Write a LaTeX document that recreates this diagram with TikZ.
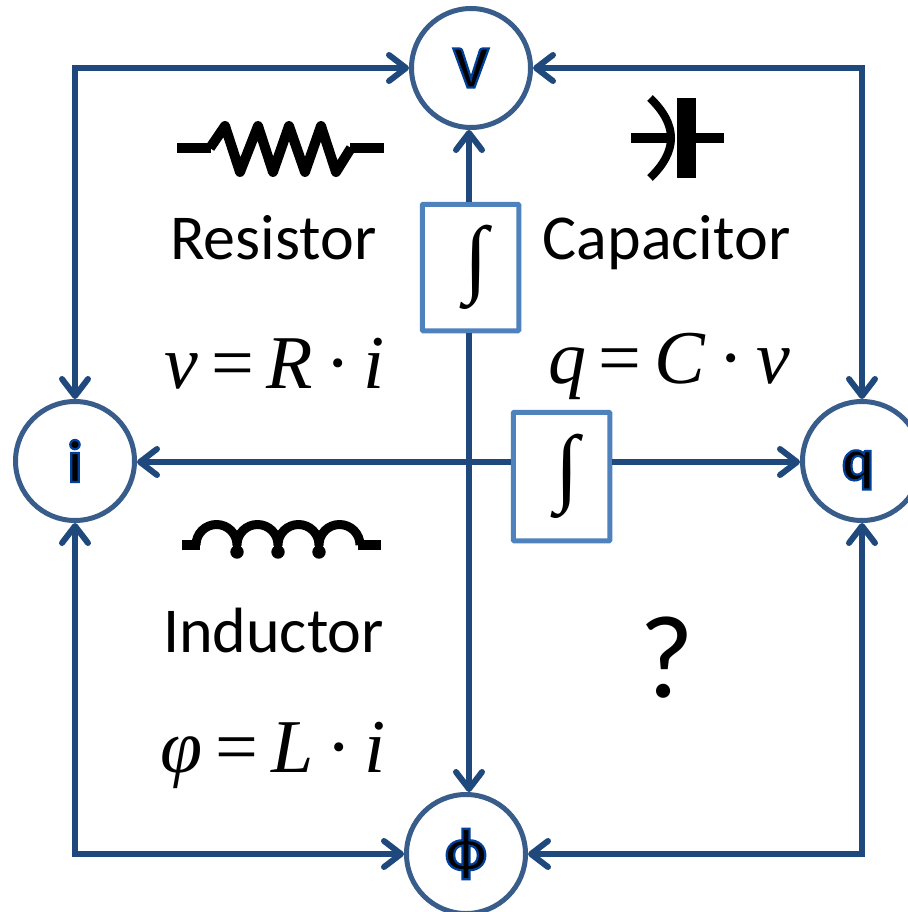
\documentclass[tikz,border=0pt]{standalone}
\usepackage{fontspec}
\setmainfont{Carlito}
\newfontfamily\mathf{Liberation Serif}
\usetikzlibrary{arrows.meta}
\definecolor{conn}{HTML}{1F497D}
\definecolor{ring}{HTML}{385D8A}
\definecolor{boxc}{HTML}{4F81BD}
\newcommand{\outl}[1]{\special{pdf:code q 0.0 0.25 0.6 RG 2.2 w 2 Tr}#1\special{pdf:code 0 Tr Q}}
\newcommand{\integralsign}{\hspace*{11pt}{\fontsize{86}{86}\selectfont\mathf ∫}}
\tikzset{
  x=1pt,y=-1pt,
  qty/.style={circle,draw=ring,line width=5pt,fill=white,minimum size=119pt,inner sep=0pt,font=\fontsize{60}{60}\selectfont\bfseries},
  integ/.style={rectangle,draw=boxc,line width=5pt,fill=white,inner sep=0pt,rounded corners=0.8pt},
  wire/.style={draw=conn,line width=6pt},
  tip/.style={wire,-{Straight Barb[length=17pt,width=26pt,round,line width=6pt]}},
  tips/.style={wire,{Straight Barb[length=17pt,width=26pt,round,line width=6pt]}-{Straight Barb[length=17pt,width=26pt,round,line width=6pt]}},
  sym/.style={draw=black,line width=9pt,line join=round},
  caption/.style={anchor=base,font=\fontsize{64}{64}\selectfont,inner sep=0pt},
  eqn/.style={anchor=base,font=\fontsize{76}{76}\selectfont\mathf,inner sep=0pt},
}
\begin{document}
\begin{tikzpicture}
\useasboundingbox (0,0) rectangle (907,912);
% resistor
\draw[sym,line width=10pt] (210,148) -- (225,126) -- (240,172) -- (258,126) -- (273,172) -- (289,126) -- (305,172) -- (321,126) -- (336,172) -- (351,148);
\draw[sym,line width=10pt] (177,148) -- (211,148) (350,148) -- (384,148);
% capacitor
\fill (677,98) rectangle (696,178);
\draw[sym,line width=10pt] (631,138) -- (670,138) (690,138) -- (724,138);
\draw[sym,line width=8pt,line cap=butt] (650,98) .. controls (678,125) and (678,151) .. (650,178);
% inductor
\draw[sym] (196,545) arc[start angle=180,end angle=360,radius=20.5]
 arc[start angle=180,end angle=360,radius=20.5]
 arc[start angle=180,end angle=360,radius=20.5]
 arc[start angle=180,end angle=360,radius=20.5];
\draw[sym,line width=10pt] (182,545) -- (200,545) (358,545) -- (381,545);
\draw[sym,line width=8pt] (237,545) -- (237,552) (278,545) -- (278,552) (319,545) -- (319,552);
\fill (237,552) circle[radius=6.7] (278,552) circle[radius=6.7] (319,552) circle[radius=6.7];
% quantity nodes
\node[qty] (V) at (471,68) {\outl{V}};
\node[qty] (I) at (75,461) {\outl{i}};
\node[qty] (Q) at (862,461) {\raisebox{-19pt}[0pt][0pt]{\outl{q}}\hspace*{8pt}};
\node[qty] (P) at (466,854) {\outl{ϕ}};
% integrators
\node[integ,minimum width=96.5pt,minimum height=126.5pt] (B1) at (470.5,267.5) {\integralsign};
\node[integ,minimum width=96.5pt,minimum height=128.5pt] (B2) at (561.5,476.5) {\integralsign};
% connectors
\coordinate (vx) at (469,0);
\coordinate (hy) at (0,462);
\draw[tips] (I.north) |- (V.west);
\draw[tips] (Q.north) |- (V.east);
\draw[tips] (I.south) |- (P.west);
\draw[tips] (Q.south) |- (P.east);
\draw[tip] (vx |- B1.north) -- (vx |- V.south);
\draw[tip] (vx |- B1.south) -- (vx |- P.north);
\draw[tip] (hy -| B2.west) -- (hy -| I.east);
\draw[tip] (hy -| B2.east) -- (hy -| Q.west);
% labels
\node[caption] (t1) at (273.5,259) {Resistor};
\node[caption] (t2) at (666.5,259) {Capacitor};
\node[caption] (t3) at (273.5,652) {Inductor};
\node[caption,font=\fontsize{118}{118}\selectfont] (t4) at (667,697) {?};
\node[eqn] (e1) at (275,388) {\textit{v}\,=\,\textit{R}\,·\,\textit{i}};
\node[eqn] (e2) at (669,383) {\textit{q}\,=\,\textit{C}\,·\,\textit{v}};
\node[eqn] (e3) at (273,772) {\textit{φ}\,=\,\textit{L}\,·\,\textit{i}};
\end{tikzpicture}
\end{document}
